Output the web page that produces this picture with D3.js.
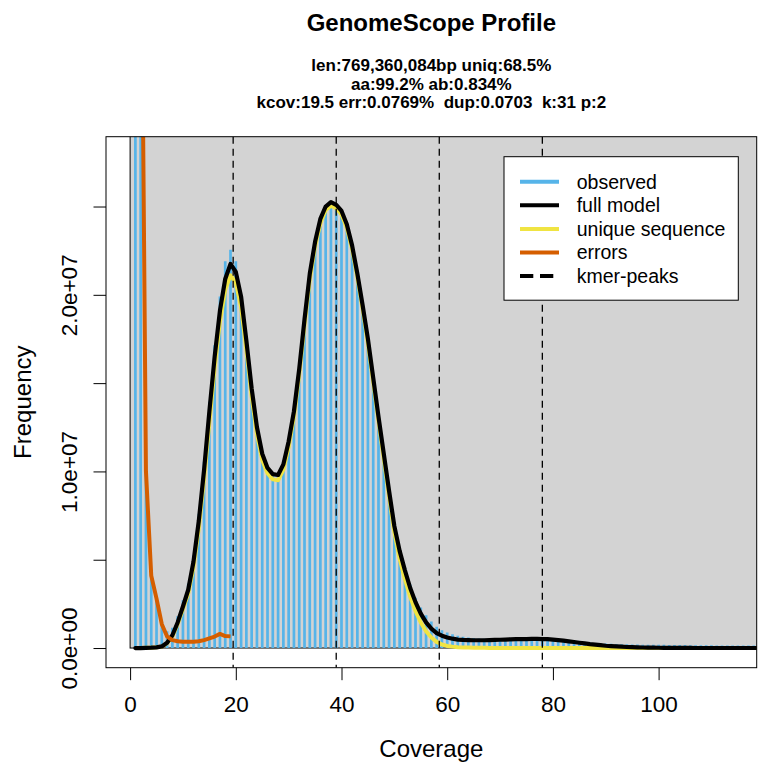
<!DOCTYPE html>
<html>
<head>
<meta charset="utf-8">
<script src="https://cdn.jsdelivr.net/npm/d3@7"></script>
<style>
    body { margin: 0; background: #fff; }
    svg { font-family: "Liberation Sans", Arial, Helvetica, sans-serif; }
</style>
</head>
<body>
<div id="chart"></div>
<script>

// values in millions of k-mers, coverage = index + 1
let observed = [
    230, 46, 10.0, 4.1, 2.85, 1.45, 0.95, 1.15, 1.8, 2.7,
    3.65, 5.25, 7.6, 10.55, 13.95, 17.15, 19.9, 21.9, 22.55, 21.9,
    20.0, 17.4, 14.7, 12.5, 11.0, 10.2, 9.85, 9.8, 10.4, 11.7,
    13.4, 15.8, 18.6, 21.2, 23.0, 24.3, 25.0, 25.3, 25.15, 24.75,
    24.0, 22.8, 21.2, 19.4, 17.5, 15.3, 13.1, 11.0, 8.9, 6.95,
    5.6, 4.55, 3.6, 2.85, 2.3, 1.85, 1.5, 1.2, 1.0, 0.88,
    0.78, 0.7, 0.64, 0.6, 0.57, 0.54, 0.52, 0.51, 0.5, 0.5,
    0.5, 0.51, 0.52, 0.53, 0.54, 0.54, 0.54, 0.54, 0.53, 0.51,
    0.48, 0.45, 0.42, 0.39, 0.36, 0.33, 0.31, 0.29, 0.27, 0.25,
    0.24, 0.23, 0.22, 0.21, 0.2, 0.2, 0.19, 0.19, 0.18, 0.18,
    0.18, 0.17, 0.17, 0.17, 0.17, 0.16, 0.16, 0.16, 0.16, 0.16,
    0.15, 0.15, 0.15, 0.15, 0.15, 0.15, 0.14, 0.14, 0.14, 0.14
];

let fullModel = [
    0.0, 0.0, 0.01, 0.02, 0.04, 0.09, 0.3, 0.72, 1.45, 2.35,
    3.3, 4.9, 7.2, 10.1, 13.4, 16.5, 19.1, 20.9, 21.75, 21.3,
    19.9, 17.4, 14.7, 12.5, 11.0, 10.2, 9.85, 9.8, 10.4, 11.7,
    13.4, 15.8, 18.6, 21.2, 23.0, 24.3, 25.0, 25.25, 25.1, 24.75,
    24.0, 22.8, 21.2, 19.4, 17.5, 15.3, 13.1, 11.0, 8.9, 6.9,
    5.5, 4.4, 3.4, 2.6, 1.95, 1.45, 1.1, 0.85, 0.7, 0.6,
    0.53, 0.48, 0.46, 0.45, 0.44, 0.44, 0.44, 0.45, 0.46, 0.47,
    0.48, 0.49, 0.5, 0.51, 0.51, 0.52, 0.52, 0.51, 0.5, 0.48,
    0.45, 0.42, 0.38, 0.34, 0.3, 0.26, 0.22, 0.19, 0.16, 0.13,
    0.11, 0.09, 0.075, 0.06, 0.05, 0.04, 0.03, 0.025, 0.02, 0.015,
    0.012, 0.01, 0.008, 0.006, 0.005, 0.004, 0.003, 0.003, 0.002, 0.002,
    0.002, 0.001, 0.001, 0.001, 0.001, 0.001, 0.001, 0.001, 0.001, 0.001
];

let uniqueSeq = [
    0.0, 0.0, 0.01, 0.02, 0.04, 0.08, 0.27, 0.66, 1.36, 2.2,
    3.1, 4.6, 6.8, 9.6, 12.8, 15.9, 18.5, 20.3, 21.1, 20.7,
    19.3, 16.9, 14.25, 12.1, 10.65, 9.9, 9.55, 9.5, 10.1, 11.4,
    13.1, 15.5, 18.3, 20.9, 22.75, 24.05, 24.8, 25.05, 24.9, 24.55,
    23.8, 22.6, 21.0, 19.2, 17.25, 15.05, 12.85, 10.7, 8.6, 6.55,
    5.05, 3.9, 2.9, 2.1, 1.45, 0.95, 0.6, 0.35, 0.2, 0.12,
    0.08, 0.05, 0.035, 0.025, 0.02, 0.015, 0.01, 0.008, 0.006, 0.005,
    0.004, 0.003, 0.003, 0.002, 0.002, 0.002, 0.001, 0.001, 0.001, 0.001,
    0.001, 0.001, 0.001, 0.001, 0.001, 0, 0, 0, 0, 0,
    0, 0, 0, 0, 0, 0, 0, 0, 0, 0,
    0, 0, 0, 0, 0, 0, 0, 0, 0, 0,
    0, 0, 0, 0, 0, 0, 0, 0, 0, 0
];

let errors = [
    190, 46, 10.0, 4.1, 2.8, 1.35, 0.65, 0.45, 0.38, 0.35,
    0.35, 0.36, 0.38, 0.45, 0.55, 0.65, 0.8, 0.68, 0.66
];

let kmerPeaks = [19.5, 39, 58.5, 78];

let xTicks = [0, 20, 40, 60, 80, 100];
let yTicks = [0, 5, 10, 15, 20, 25];
let yTickLabels = ["0.0e+00", "", "1.0e+07", "", "2.0e+07", ""];

let titleText = "GenomeScope Profile";
let subLines = [
    "len:769,360,084bp uniq:68.5%",
    "aa:99.2% ab:0.834%",
    "kcov:19.5 err:0.0769%  dup:0.0703  k:31 p:2"
];

let legendLabels = ["observed", "full model", "unique sequence", "errors", "kmer-peaks"];
let legendColors = ["#56B4E9", "#000000", "#F0E442", "#D55E00", "#000000"];

let xLimit = 114;
let yLimit = 27.84;

let width = 770, height = 777;
let margin = {top: 136.7, right: 13.3, bottom: 109.3, left: 106};

let svg = d3.select("#chart").append("svg")
    .attr("width", width)
    .attr("height", height);

// R style 4% padding on both axes
let x = d3.scaleLinear()
    .domain([-0.04 * xLimit, 1.04 * xLimit])
    .range([margin.left, width - margin.right]);

let y = d3.scaleLinear()
    .domain([-0.04 * yLimit, 1.04 * yLimit])
    .range([height - margin.bottom, margin.top]);

svg.append("defs").append("clipPath")
    .attr("id", "plot-clip")
    .append("rect")
    .attr("x", margin.left)
    .attr("y", margin.top)
    .attr("width", width - margin.left - margin.right)
    .attr("height", height - margin.top - margin.bottom);

let plot = svg.append("g").attr("clip-path", "url(#plot-clip)");

// grey background rect starting at (0,0)
plot.append("rect")
    .attr("x", x(0))
    .attr("y", y(yLimit * 2))
    .attr("width", x(xLimit * 2) - x(0))
    .attr("height", y(0) - y(yLimit * 2))
    .attr("fill", "#D3D3D3")
    .attr("stroke", "#000")
    .attr("stroke-width", 1);

// histogram as vertical lines
plot.selectAll(".bar")
    .data(observed)
    .enter()
    .append("line")
    .attr("class", "bar")
    .attr("x1", (d, i) => x(i + 1))
    .attr("x2", (d, i) => x(i + 1))
    .attr("y1", y(0))
    .attr("y2", d => y(d))
    .attr("stroke", legendColors[0])
    .attr("stroke-width", 2.7);

let line = d3.line()
    .x((d, i) => x(i + 1))
    .y(d => y(d));

plot.append("path")
    .datum(uniqueSeq)
    .attr("d", line)
    .attr("fill", "none")
    .attr("stroke", legendColors[2])
    .attr("stroke-width", 4)
    .attr("stroke-linejoin", "round");

plot.append("path")
    .datum(fullModel)
    .attr("d", line)
    .attr("fill", "none")
    .attr("stroke", legendColors[1])
    .attr("stroke-width", 4.2)
    .attr("stroke-linejoin", "round")
    .attr("stroke-linecap", "round");

plot.append("path")
    .datum(errors)
    .attr("d", line)
    .attr("fill", "none")
    .attr("stroke", legendColors[3])
    .attr("stroke-width", 4)
    .attr("stroke-linejoin", "round");

plot.selectAll(".peak")
    .data(kmerPeaks)
    .enter()
    .append("line")
    .attr("class", "peak")
    .attr("x1", d => x(d))
    .attr("x2", d => x(d))
    .attr("y1", margin.top)
    .attr("y2", height - margin.bottom)
    .attr("stroke", "#000")
    .attr("stroke-width", 1.3)
    .attr("stroke-dasharray", "7,5");

// box
svg.append("rect")
    .attr("x", margin.left)
    .attr("y", margin.top)
    .attr("width", width - margin.left - margin.right)
    .attr("height", height - margin.top - margin.bottom)
    .attr("fill", "none")
    .attr("stroke", "#000")
    .attr("stroke-width", 1);

// axes
let xAxis = d3.axisBottom(x)
    .tickValues(xTicks)
    .tickSize(12.5)
    .tickFormat(d3.format("d"));

let xg = svg.append("g")
    .attr("transform", `translate(0, ${height - margin.bottom})`)
    .call(xAxis);
xg.select(".domain").remove();
xg.selectAll("text")
    .attr("y", 44)
    .attr("dy", 0)
    .attr("font-size", 22.5)
    .attr("font-family", null)
    .attr("fill", "#000");

let yAxis = d3.axisLeft(y)
    .tickValues(yTicks)
    .tickSize(12.5)
    .tickFormat((d, i) => yTickLabels[i]);

let yg = svg.append("g")
    .attr("transform", `translate(${margin.left}, 0)`)
    .call(yAxis);
yg.select(".domain").remove();
yg.selectAll("text")
    .attr("x", 0)
    .attr("y", -29.3)
    .attr("dy", 0)
    .attr("text-anchor", "middle")
    .attr("transform", "rotate(-90)")
    .attr("font-size", 22.5)
    .attr("font-family", null)
    .attr("fill", "#000");

svg.selectAll(".tick line").attr("stroke", "#000");

// axis titles
svg.append("text")
    .attr("x", (margin.left + width - margin.right) / 2)
    .attr("y", 757)
    .attr("text-anchor", "middle")
    .attr("font-size", 24)
    .text("Coverage");

svg.append("text")
    .attr("transform", `translate(30.5, ${(margin.top + height - margin.bottom) / 2}) rotate(-90)`)
    .attr("text-anchor", "middle")
    .attr("font-size", 24)
    .text("Frequency");

// titles
let cx = (margin.left + width - margin.right) / 2;
svg.append("text")
    .attr("x", cx)
    .attr("y", 31)
    .attr("text-anchor", "middle")
    .attr("font-size", 24)
    .attr("font-weight", "bold")
    .text(titleText);

svg.selectAll(".sub")
    .data(subLines)
    .enter()
    .append("text")
    .attr("class", "sub")
    .attr("x", cx)
    .attr("y", (d, i) => 71 + i * 18.5)
    .attr("text-anchor", "middle")
    .attr("font-size", 17)
    .attr("font-weight", "bold")
    .style("white-space", "pre")
    .text(d => d);

// legend
let legend = svg.append("g").attr("class", "legend");
legend.append("rect")
    .attr("x", 504)
    .attr("y", 156.7)
    .attr("width", 234.3)
    .attr("height", 143.5)
    .attr("fill", "#fff")
    .attr("stroke", "#000")
    .attr("stroke-width", 1);

let rows = legend.selectAll(".row")
    .data(legendLabels)
    .enter()
    .append("g")
    .attr("class", "row")
    .attr("transform", (d, i) => `translate(520, ${181.7 + i * 23.6})`);

rows.append("line")
    .attr("x1", 0)
    .attr("x2", 39)
    .attr("stroke", (d, i) => legendColors[i])
    .attr("stroke-width", 4)
    .attr("stroke-dasharray", (d, i) => i === 4 ? "13.3,6.7" : null);

rows.append("text")
    .attr("x", 56.7)
    .attr("dy", "0.35em")
    .attr("font-size", 19.5)
    .text(d => d);

</script>
</body>
</html>
